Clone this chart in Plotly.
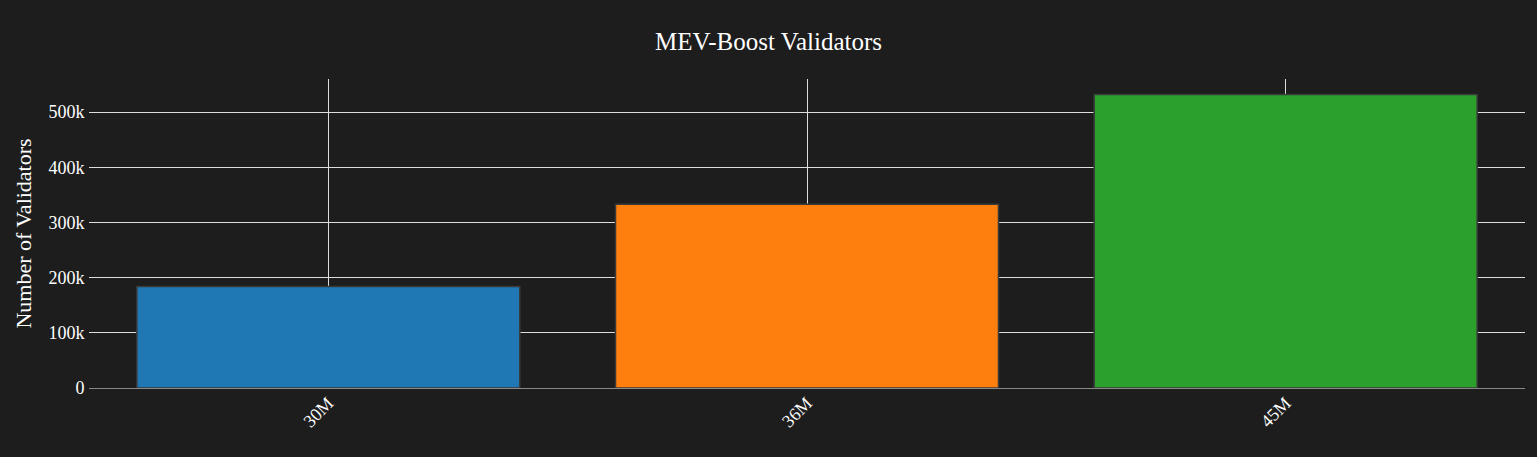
import plotly.graph_objects as go

categories = ["30M", "36M", "45M"]
values = [184000, 333000, 532000]
colors = ["#1f77b4", "#ff7f0e", "#2ca02c"]

fig = go.Figure(go.Bar(
    x=categories, y=values,
    marker=dict(color=colors, line=dict(color="#3a3a3a", width=1.5)),
))

font_family = "Liberation Serif, Times New Roman, serif"
fig.update_layout(
    width=1537, height=457,
    paper_bgcolor="#1d1d1d", plot_bgcolor="#1d1d1d",
    margin=dict(l=89, r=12, t=79, b=69),
    font=dict(family=font_family, color="white", size=18),
    title=dict(text="MEV-Boost Validators", x=0.5, xanchor="center", y=0.91, yanchor="middle",
               font=dict(size=25, color="white", family=font_family)),
    showlegend=False,
)
fig.update_xaxes(tickangle=-45, showgrid=True, gridcolor="#dddddd", gridwidth=1,
                 tickfont=dict(size=18, color="white"))
fig.update_yaxes(title=dict(text="Number of Validators", font=dict(size=22, color="white"), standoff=10),
                 showgrid=True, gridcolor="#dddddd", gridwidth=1,
                 zeroline=True, zerolinecolor="#888888", zerolinewidth=1,
                 tickfont=dict(size=18, color="white"), ticks="outside", ticklen=0)

fig.write_html("out.html", config={"displayModeBar": False},
               post_script="document.body.style.margin='0';")
